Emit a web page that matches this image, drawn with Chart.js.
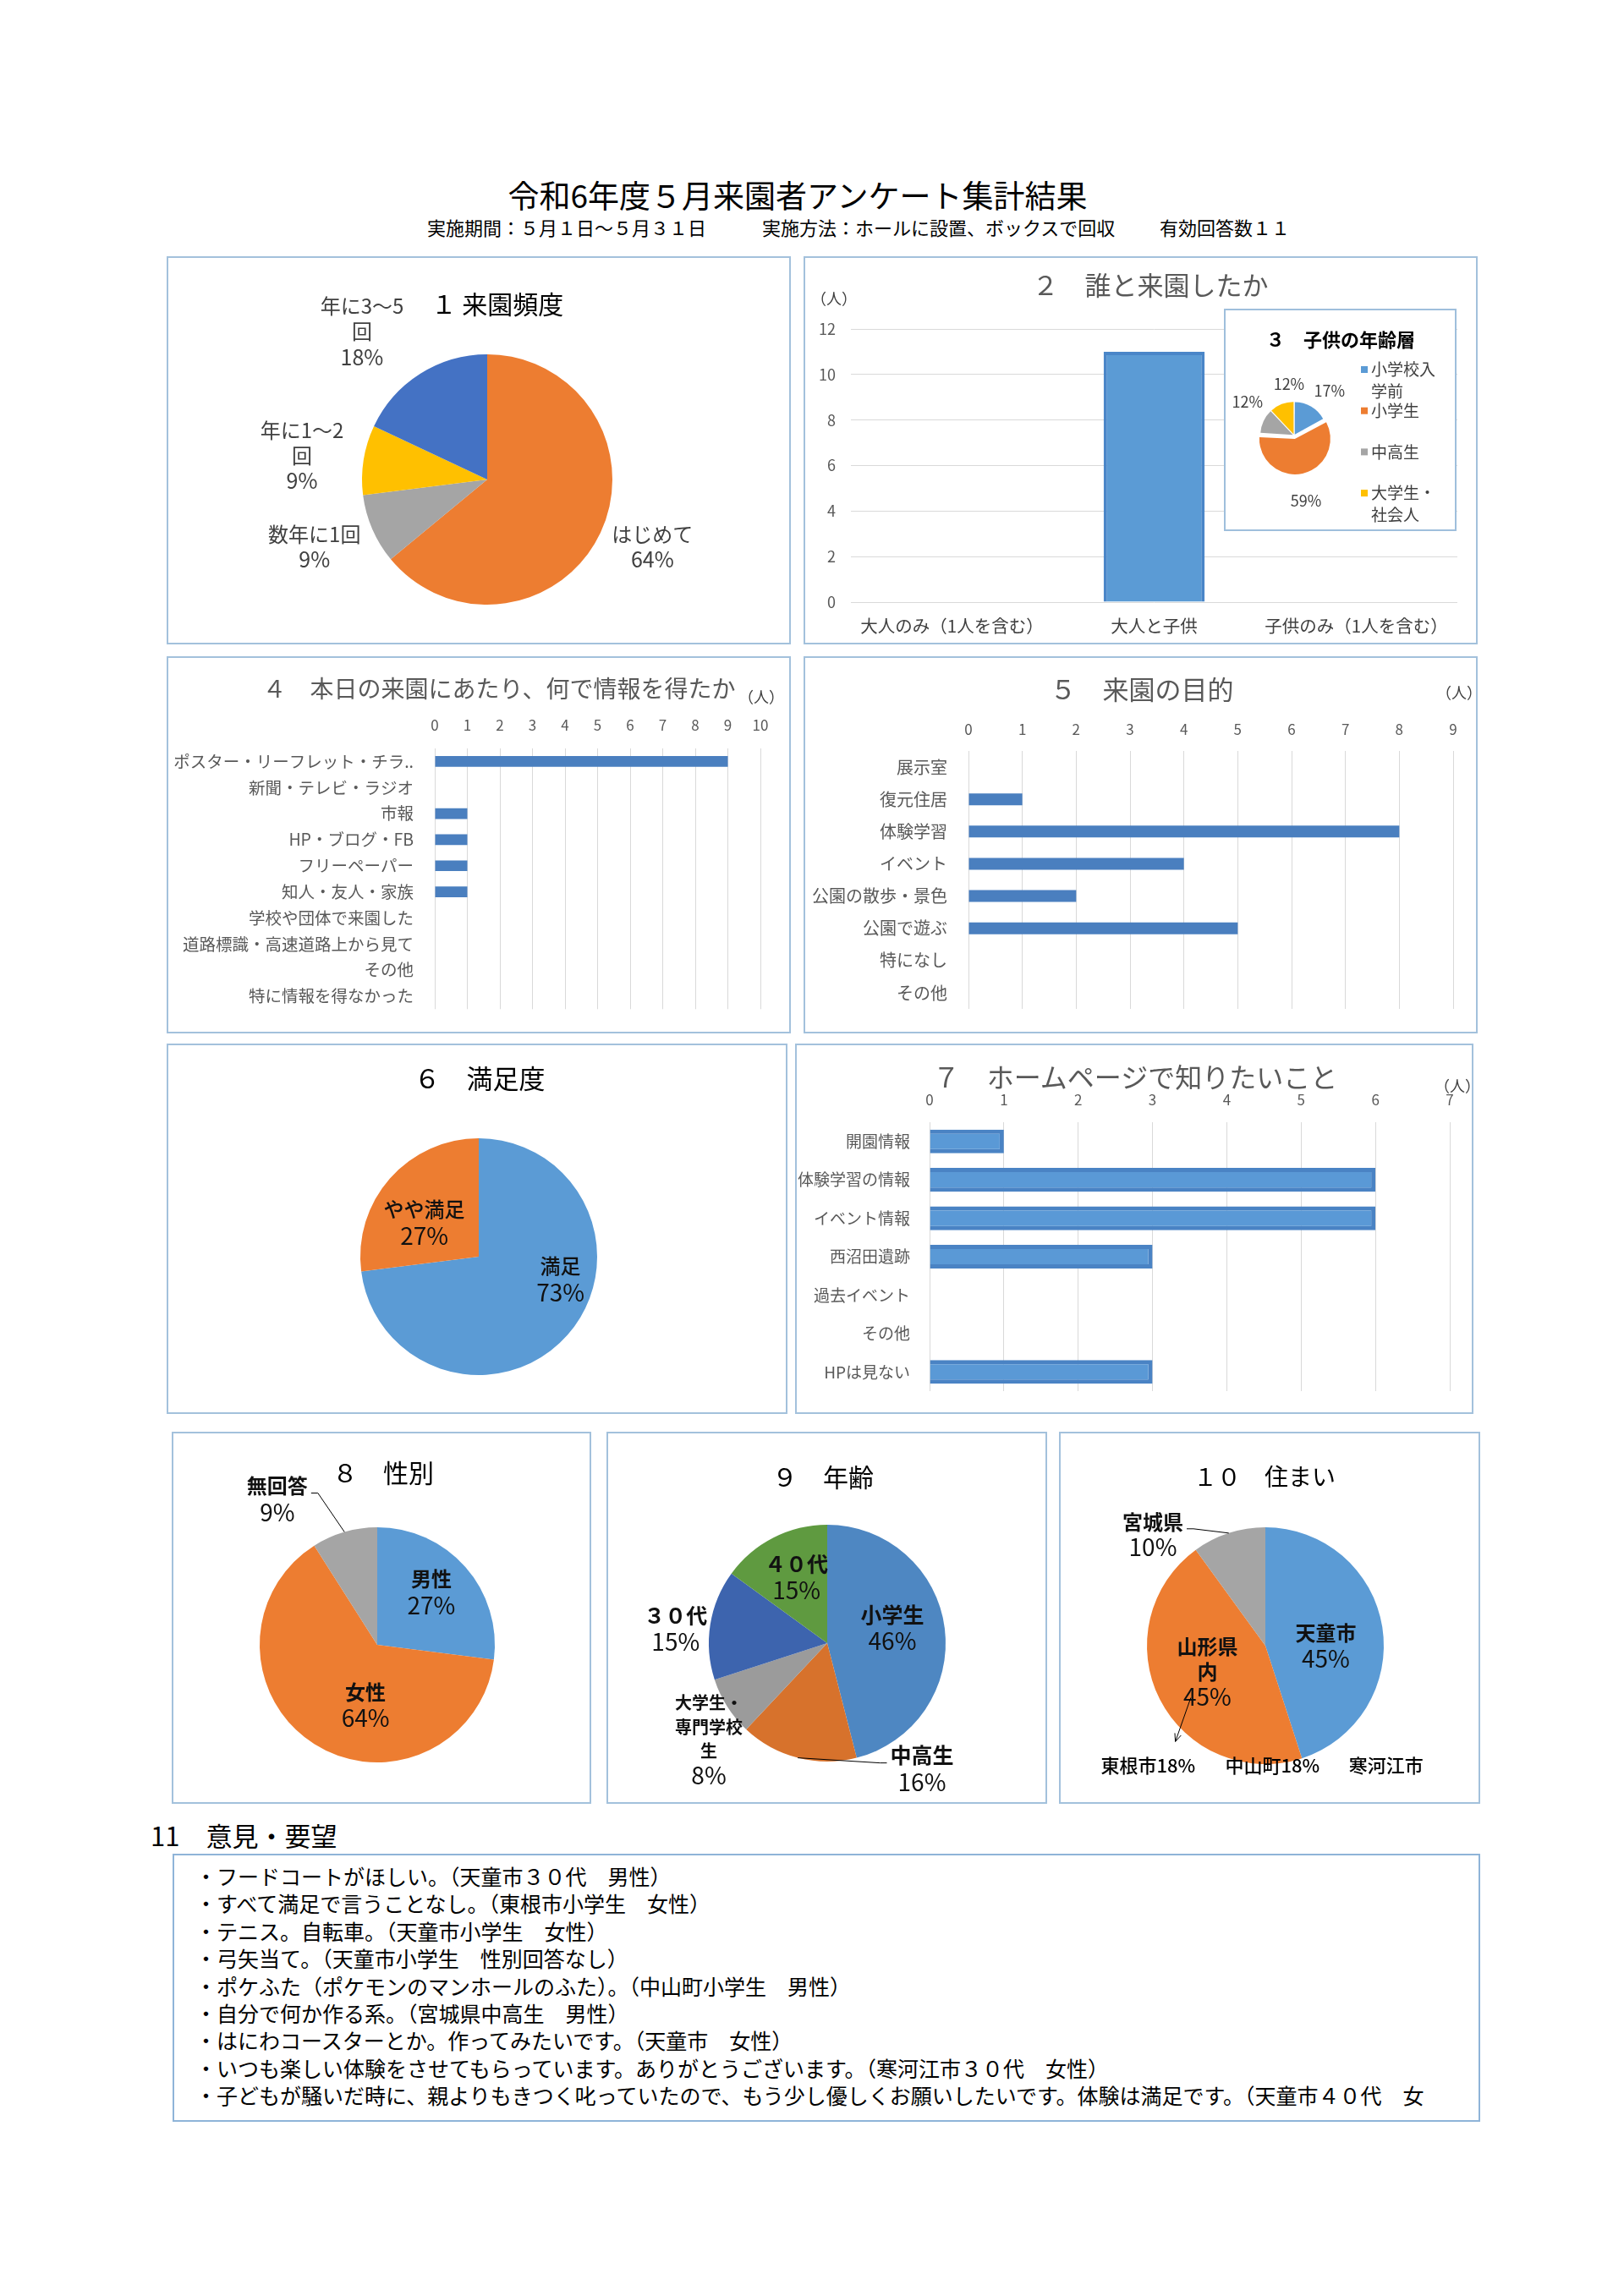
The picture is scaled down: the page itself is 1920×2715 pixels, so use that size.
<!DOCTYPE html>
<html lang="ja">
<head>
<meta charset="utf-8">
<title>令和6年度５月来園者アンケート集計結果</title>
<script src="https://cdn.jsdelivr.net/npm/chart.js@4.4.1/dist/chart.umd.min.js"></script>
<style>
  html, body { margin: 0; padding: 0; background: #fff; }
  body { width: 1920px; height: 2715px; position: relative; overflow: hidden;
         font-family: "Noto Sans CJK JP", "Noto Sans", sans-serif; color: #000; }
  canvas { position: absolute; }
  .box { position: absolute; box-sizing: border-box; border: 2px solid #a3c1dc; pointer-events: none; }
  .t { position: absolute; white-space: nowrap; line-height: 1; transform: translate(-50%, -50%); }
  .l { position: absolute; white-space: nowrap; line-height: 1; transform: translateY(-50%); }
</style>
</head>
<body>
<script>
// ---- data ----
// 1 来園頻度 (%)
const freqLabels = ['はじめて', '数年に1回', '年に1～2回', '年に3～5回'];
const freqPct = [64, 9, 9, 18];

// 2 誰と来園したか (人)
const companionLabels = ['大人のみ（1人を含む）', '大人と子供', '子供のみ（1人を含む）'];
const companionCounts = [0, 11, 0];

// 3 子供の年齢層 (%)
const childAgeLabels = ['小学校入学前', '小学生', '中高生', '大学生・社会人'];
const childAgePct = [17, 59, 12, 12];

// 4 何で情報を得たか (人)
const infoLabels = ['ポスター・リーフレット・チラシ', '新聞・テレビ・ラジオ', '市報', 'HP・ブログ・FB',
  'フリーペーパー', '知人・友人・家族', '学校や団体で来園した', '道路標識・高速道路上から見て', 'その他', '特に情報を得なかった'];
const infoCounts = [9, 0, 1, 1, 1, 1, 0, 0, 0, 0];

// 5 来園の目的 (人)
const purposeLabels = ['展示室', '復元住居', '体験学習', 'イベント', '公園の散歩・景色', '公園で遊ぶ', '特になし', 'その他'];
const purposeCounts = [0, 1, 8, 4, 2, 5, 0, 0];

// 6 満足度 (%)
const satisfactionLabels = ['満足', 'やや満足'];
const satisfactionPct = [73, 27];

// 7 ホームページで知りたいこと (人)
const hpLabels = ['開園情報', '体験学習の情報', 'イベント情報', '西沼田遺跡', '過去イベント', 'その他', 'HPは見ない'];
const hpCounts = [1, 6, 6, 3, 0, 0, 3];

// 8 性別 (%)
const genderLabels = ['男性', '女性', '無回答'];
const genderPct = [27, 64, 9];

// 9 年齢 (%)
const ageLabels = ['小学生', '中高生', '大学生・専門学校生', '３０代', '４０代'];
const agePct = [46, 16, 8, 15, 15];

// 10 住まい (%)
const homeLabels = ['天童市', '山形県内', '宮城県'];
const homePct = [45, 45, 10];
const yamagataNotes = ['東根市18%', '中山町18%', '寒河江市'];

// 11 意見・要望
const comments = [
  '・フードコートがほしい。（天童市３０代　男性）',
  '・すべて満足で言うことなし。（東根市小学生　女性）',
  '・テニス。自転車。（天童市小学生　女性）',
  '・弓矢当て。（天童市小学生　性別回答なし）',
  '・ポケふた（ポケモンのマンホールのふた）。（中山町小学生　男性）',
  '・自分で何か作る系。（宮城県中高生　男性）',
  '・はにわコースターとか。作ってみたいです。（天童市　女性）',
  '・いつも楽しい体験をさせてもらっています。ありがとうございます。（寒河江市３０代　女性）',
  '・子どもが騒いだ時に、親よりもきつく叱っていたので、もう少し優しくお願いしたいです。体験は満足です。（天童市４０代　女'
];

// ---- helpers ----
const FONT = '"Noto Sans CJK JP", "Noto Sans", sans-serif';
Chart.defaults.font.family = FONT;
Chart.defaults.animation = false;
Chart.defaults.responsive = false;
Chart.defaults.plugins.legend.display = false;
Chart.defaults.plugins.tooltip.enabled = false;

function wrap(s, n) {
  const ch = Array.from(s), out = [];
  for (let i = 0; i < ch.length; i += n) out.push(ch.slice(i, i + n).join(''));
  return out;
}

function canvasAt(x, y, w, h, bg) {
  const c = document.createElement('canvas');
  c.width = w; c.height = h;
  c.style.left = x + 'px'; c.style.top = y + 'px';
  if (bg) c.style.background = bg;
  document.body.appendChild(c);
  return c;
}

function boxAt(x, y, w, h, color) {
  const d = document.createElement('div');
  d.className = 'box';
  Object.assign(d.style, { left: x + 'px', top: y + 'px', width: w + 'px', height: h + 'px' });
  if (color) d.style.borderColor = color;
  document.body.appendChild(d);
}

function text(str, x, y, size, color, weight, left) {
  const d = document.createElement('div');
  d.className = left ? 'l' : 't';
  d.textContent = str;
  Object.assign(d.style, { left: x + 'px', top: y + 'px', fontSize: size + 'px', color: color || '#000', fontWeight: weight || 400 });
  document.body.appendChild(d);
}

// labels for pie slices, placed relative to the pie centre in radius units
const pieLabels = {
  id: 'pieLabels',
  afterDatasetsDraw(chart, args, o) {
    const ctx = chart.ctx;
    const arcs = chart.getDatasetMeta(0).data;
    const values = chart.data.datasets[0].data;
    ctx.save();
    ctx.textAlign = 'center';
    ctx.textBaseline = 'middle';
    arcs.forEach((arc, i) => {
      const { x, y, outerRadius: r, startAngle, endAngle } =
        arc.getProps(['x', 'y', 'outerRadius', 'startAngle', 'endAngle'], true);
      const lx = x + o.pos[i][0] * r, ly = y + o.pos[i][1] * r;
      const nameSize = (o.nameSizes && o.nameSizes[i]) || o.nameSize;
      const lines = o.showName === false ? [] :
        wrap(chart.data.labels[i], o.wrap).map(t => ({ t, f: `${o.nameWeight} ${nameSize}px ${FONT}` }));
      lines.push({ t: values[i] + '%', f: `${o.pctWeight} ${o.pctSize}px ${FONT}` });
      const lh = (o.lineHeights && o.lineHeights[i]) || o.lineHeight;
      const top = ly - (lines.length - 1) * lh / 2;
      ctx.fillStyle = o.color;
      lines.forEach((ln, k) => { ctx.font = ln.f; ctx.fillText(ln.t, lx, top + k * lh); });
      if (o.leaders && o.leaders[i]) {
        const mid = (startAngle + endAngle) / 2;
        const ex = x + Math.cos(mid) * r, ey = y + Math.sin(mid) * r;
        ctx.font = lines[0].f;
        const w = ctx.measureText(lines[0].t).width;
        const side = ex > lx ? 1 : -1;
        const sx = lx + side * (w / 2 + 4), sy = top + nameSize * 0.35;
        ctx.strokeStyle = '#000';
        ctx.lineWidth = 1;
        ctx.beginPath();
        ctx.moveTo(ex, ey);
        ctx.lineTo(sx + side * 8, sy);
        ctx.lineTo(sx, sy);
        ctx.stroke();
      }
    });
    ctx.restore();
  }
};

// legend drawn at the right side of the small inset pie
const sideLegend = {
  id: 'sideLegend',
  afterDraw(chart, args, o) {
    const ctx = chart.ctx;
    const colors = chart.data.datasets[0].backgroundColor;
    ctx.save();
    ctx.font = `${o.size}px ${FONT}`;
    ctx.textBaseline = 'middle';
    ctx.textAlign = 'left';
    chart.data.labels.forEach((lab, i) => {
      const y0 = o.top + i * o.step;
      ctx.fillStyle = colors[i];
      ctx.fillRect(o.left, y0 - 4, 8, 8);
      ctx.fillStyle = o.color;
      wrap(lab, o.wrap).forEach((t, k) => ctx.fillText(t, o.left + 12, y0 + k * o.lineHeight));
    });
    ctx.restore();
  }
};

// breakdown notes under the 住まい pie
const areaNotes = {
  id: 'areaNotes',
  afterDatasetsDraw(chart, args, o) {
    const ctx = chart.ctx;
    const { x, y, outerRadius: r } = chart.getDatasetMeta(0).data[0].getProps(['x', 'y', 'outerRadius'], true);
    ctx.save();
    ctx.font = `500 ${o.size}px ${FONT}`;
    ctx.fillStyle = '#000';
    ctx.textAlign = 'center';
    ctx.textBaseline = 'middle';
    o.notes.forEach((t, i) => ctx.fillText(t, x + o.xs[i] * r, y + o.y * r));
    const [ax, ay, bx, by] = [x + o.arrow[0] * r, y + o.arrow[1] * r, x + o.arrow[2] * r, y + o.arrow[3] * r];
    const ang = Math.atan2(by - ay, bx - ax);
    ctx.strokeStyle = '#000';
    ctx.lineWidth = 1;
    ctx.beginPath();
    ctx.moveTo(ax, ay); ctx.lineTo(bx, by);
    ctx.moveTo(bx - 10 * Math.cos(ang - 0.4), by - 10 * Math.sin(ang - 0.4));
    ctx.lineTo(bx, by);
    ctx.lineTo(bx - 10 * Math.cos(ang + 0.4), by - 10 * Math.sin(ang + 0.4));
    ctx.stroke();
    ctx.restore();
  }
};

function pieChart(canvas, labels, values, colors, padding, lab, extra, offset) {
  return new Chart(canvas, {
    type: 'pie',
    data: { labels, datasets: [{ data: values, backgroundColor: colors, borderWidth: 0, hoverBorderWidth: 0,
      hoverOffset: 0, offset: offset || 0 }] },
    options: { layout: { padding }, plugins: Object.assign({ pieLabels: lab }, extra ? extra.opts : {}) },
    plugins: [pieLabels].concat(extra ? extra.plugins : [])
  });
}

function hbarChart(canvas, labels, values, o) {
  return new Chart(canvas, {
    type: 'bar',
    data: { labels, datasets: [{ data: values, backgroundColor: o.fill, borderColor: o.border || o.fill,
      borderWidth: o.bw || 0, categoryPercentage: 1, barPercentage: o.bp }] },
    options: {
      indexAxis: 'y',
      layout: { padding: o.pad },
      scales: {
        x: { position: 'top', min: 0, max: o.max,
             ticks: { stepSize: 1, padding: o.xPad, color: '#595959', font: { size: 17 } },
             grid: { color: '#d9d9d9', drawTicks: false }, border: { display: false },
             afterFit: s => { s.height = o.xh; } },
        y: { ticks: { autoSkip: false, padding: o.yPad, color: '#595959', font: { size: o.yFont },
               callback(v) { const s = this.getLabelForValue(v); return s.length > 14 ? s.slice(0, 14) + '..' : s; } },
             grid: { display: false }, border: { display: false },
             afterFit: s => { s.width = o.yw; } }
      }
    }
  });
}

// ---- page heading ----
text('令和6年度５月来園者アンケート集計結果', 943, 230, 37, '#000');
text('実施期間：５月１日～５月３１日', 505, 268, 22, '#000', 400, true);
text('実施方法：ホールに設置、ボックスで回収', 901, 268, 22, '#000', 400, true);
text('有効回答数１１', 1371, 268, 22, '#000', 400, true);

// ---- 1 来園頻度 ----
pieChart(canvasAt(197, 303, 738, 459), freqLabels, freqPct,
  ['#ED7D31', '#A5A5A5', '#FFC000', '#4472C4'],
  { left: 231, right: 211, top: 116, bottom: 47 },
  { pos: [[1.32, 0.54], [-1.38, 0.54], [-1.48, -0.19], [-1.0, -1.18]], wrap: 5,
    nameSize: 24, nameWeight: 400, pctSize: 25, pctWeight: 400, lineHeight: 30, color: '#404040' });
text('１ 来園頻度', 588, 358, 30, '#000');

// ---- 2 誰と来園したか ----
new Chart(canvasAt(950, 303, 797, 459), {
  type: 'bar',
  data: { labels: companionLabels, datasets: [{ data: companionCounts, backgroundColor: '#5B9BD5',
    borderColor: '#4A86C8', borderWidth: 4, categoryPercentage: 1, barPercentage: 0.5 }] },
  options: {
    layout: { padding: { left: 0, right: 24, top: 86, bottom: 10 } },
    scales: {
      x: { grid: { display: false }, border: { display: false },
           ticks: { color: '#404040', font: { size: 20.5 }, padding: 8, maxRotation: 0 }, afterFit: s => { s.height = 40; } },
      y: { min: 0, max: 12, ticks: { stepSize: 2, color: '#595959', font: { size: 18 }, padding: 18 },
           grid: { color: '#d9d9d9', drawTicks: false }, border: { display: false },
           afterFit: s => { s.width = 56; } }
    }
  }
});
text('２　誰と来園したか', 1360, 335, 31, '#595959');
text('（人）', 986, 352, 18, '#404040');

// ---- 3 子供の年齢層 (inset) ----
pieChart(canvasAt(1447, 365, 275, 263, '#fff'), childAgeLabels, childAgePct,
  ['#5B9BD5', '#ED7D31', '#A5A5A5', '#FFC000'],
  { left: 37, right: 146, top: 104, bottom: 67 },
  { pos: [[1.1, -1.39], [0.37, 2.03], [-1.45, -1.05], [-0.16, -1.6]], showName: false,
    nameSize: 18, nameWeight: 400, pctSize: 18, pctWeight: 400, lineHeight: 20, color: '#404040' },
  { plugins: [sideLegend], opts: { sideLegend: { left: 162, top: 72, step: 48.7, lineHeight: 26, size: 19, wrap: 4, color: '#404040' } } },
  [6, 16, 6, 6]);
boxAt(1447, 365, 275, 263, '#9fbfdc');
text('３　子供の年齢層', 1585, 400, 22, '#000', 600);

// ---- 4 何で情報を得たか ----
hbarChart(canvasAt(197, 776, 738, 446), infoLabels, infoCounts,
  { fill: '#4A7FBF', bp: 0.41, max: 10, pad: { left: 0, right: 36, top: 60, bottom: 24 },
    xh: 49, yw: 317, xPad: 17, yPad: 17, yFont: 19.5 });
text('４　本日の来園にあたり、何で情報を得たか', 590, 813, 28, '#595959');
text('（人）', 900, 823, 18, '#404040');

// ---- 5 来園の目的 ----
hbarChart(canvasAt(950, 776, 797, 446), purposeLabels, purposeCounts,
  { fill: '#4A7FBF', bp: 0.37, max: 9, pad: { left: 0, right: 29, top: 60, bottom: 22 },
    xh: 52, yw: 195, xPad: 15, yPad: 17, yFont: 20 });
text('５　来園の目的', 1350, 813, 31, '#595959');
text('（人）', 1725, 818, 18, '#404040');

// ---- 6 満足度 ----
pieChart(canvasAt(197, 1234, 734, 438), satisfactionLabels, satisfactionPct,
  ['#5B9BD5', '#ED7D31'],
  { left: 229, right: 225, top: 112, bottom: 46 },
  { pos: [[0.69, 0.19], [-0.46, -0.29]], wrap: 4,
    nameSize: 24, nameWeight: 500, pctSize: 28, pctWeight: 400, lineHeight: 31, color: '#111' });
text('６　満足度', 567, 1273, 31, '#000');

// ---- 7 ホームページで知りたいこと ----
hbarChart(canvasAt(940, 1234, 802, 438), hpLabels, hpCounts,
  { fill: '#5A99D6', border: '#4A83C4', bw: 5, bp: 0.62, max: 7, pad: { left: 0, right: 28, top: 50, bottom: 27 },
    xh: 43, yw: 159, xPad: 16, yPad: 15, yFont: 19 });
text('７　ホームページで知りたいこと', 1342, 1272, 32, '#595959');
text('（人）', 1723, 1283, 18, '#404040');

// ---- 8 性別 ----
pieChart(canvasAt(203, 1693, 496, 440), genderLabels, genderPct,
  ['#5B9BD5', '#ED7D31', '#A5A5A5'],
  { left: 104, right: 114, top: 113, bottom: 49 },
  { pos: [[0.46, -0.45], [-0.1, 0.51], [-0.85, -1.24]], wrap: 3, leaders: [false, false, true],
    nameSize: 24, nameWeight: 700, pctSize: 28, pctWeight: 400, lineHeight: 31, color: '#111' });
text('８　性別', 453, 1740, 30, '#000');

// ---- 9 年齢 ----
pieChart(canvasAt(717, 1693, 521, 440), ageLabels, agePct,
  ['#4E87C2', '#D7722C', '#9B9B9B', '#3D64AE', '#5F9A40'],
  { left: 121, right: 120, top: 110, bottom: 50 },
  { pos: [[0.55, -0.13], [0.8, 1.06], [-1.0, 0.81], [-1.28, -0.12], [-0.26, -0.56]], wrap: 4,
    leaders: [false, true, false, false, false], nameSizes: [0, 0, 20, 0, 0], lineHeights: [0, 0, 28.5, 0, 0],
    nameSize: 25, nameWeight: 600, pctSize: 28, pctWeight: 400, lineHeight: 31, color: '#111' });
text('９　年齢', 973, 1745, 30, '#000');

// ---- 10 住まい ----
pieChart(canvasAt(1252, 1693, 498, 440), homeLabels, homePct,
  ['#5B9BD5', '#ED7D31', '#A5A5A5'],
  { left: 104, right: 114, top: 113, bottom: 47 },
  { pos: [[0.51, 0.0], [-0.49, 0.22], [-0.95, -0.94]], wrap: 3, leaders: [false, false, true],
    nameSize: 24, nameWeight: 600, pctSize: 28, pctWeight: 400, lineHeight: 30, color: '#111' },
  { plugins: [areaNotes], opts: { areaNotes: { notes: yamagataNotes, xs: [-0.99, 0.06, 1.02], y: 1.01, size: 22,
      arrow: [-0.63, 0.44, -0.76, 0.81] } } });
text('１０　住まい', 1495, 1745, 28, '#000');

// ---- panel frames ----
[[197, 303, 738, 459], [950, 303, 797, 459], [197, 776, 738, 446], [950, 776, 797, 446],
 [197, 1234, 734, 438], [940, 1234, 802, 438], [203, 1693, 496, 440], [717, 1693, 521, 440],
 [1252, 1693, 498, 440]].forEach(b => boxAt(b[0], b[1], b[2], b[3]));

// ---- 11 意見・要望 ----
text('11　意見・要望', 178, 2169, 31, '#000', 400, true);
boxAt(204, 2192, 1546, 317, '#8fb4d8');
comments.forEach((c, i) => text(c, 231, 2218 + i * 32.4, 25, '#000', 400, true));
</script>
</body>
</html>
